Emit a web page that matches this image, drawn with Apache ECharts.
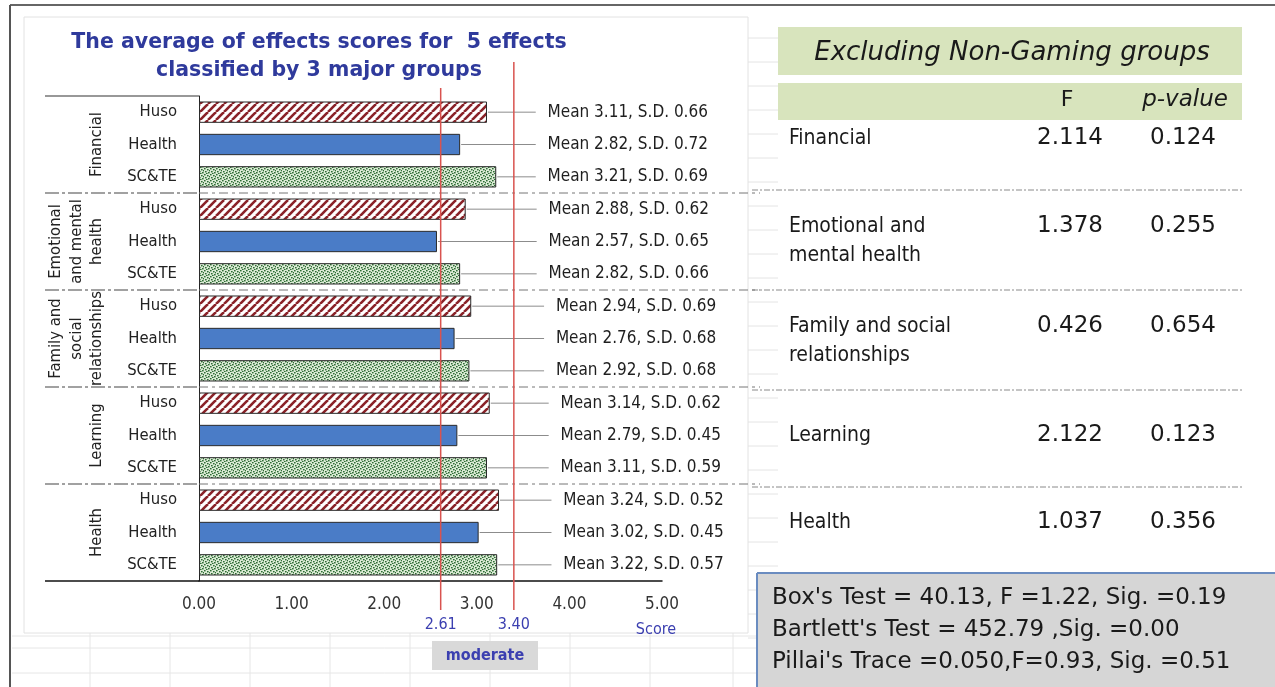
<!DOCTYPE html>
<html><head><meta charset="utf-8">
<script src="https://cdn.jsdelivr.net/npm/echarts@6/dist/echarts.min.js"></script>
<style>html,body{margin:0;padding:0;background:#fff}#c{width:1275px;height:687px}</style>
</head><body><div id="c"></div>
<script>
// ---------- data ----------
const groups = ['Financial', 'Emotional\nand mental\nhealth', 'Family and\nsocial\nrelationships', 'Learning', 'Health'];
const subgroups = ['Huso', 'Health', 'SC&TE'];
const husoMeans   = [3.11, 2.88, 2.94, 3.14, 3.24];
const husoSD      = [0.66, 0.62, 0.69, 0.62, 0.52];
const healthMeans = [2.82, 2.57, 2.76, 2.79, 3.02];
const healthSD    = [0.72, 0.65, 0.68, 0.45, 0.45];
const scteMeans   = [3.21, 2.82, 2.92, 3.11, 3.22];
const scteSD      = [0.69, 0.66, 0.68, 0.59, 0.57];
const xTicks = [0, 1, 2, 3, 4, 5];
const thresholds = [2.61, 3.40];
const titleLines = ['The average of effects scores for  5 effects', 'classified by 3 major groups'];
const tableTitle = 'Excluding Non-Gaming groups';
const tableEffects = ['Financial', 'Emotional and\nmental health', 'Family and social\nrelationships', 'Learning', 'Health'];
const tableF = ['2.114', '1.378', '0.426', '2.122', '1.037'];
const tableP = ['0.124', '0.255', '0.654', '0.123', '0.356'];
const testLines = ["Box's Test = 40.13, F =1.22, Sig. =0.19", "Bartlett's Test = 452.79 ,Sig. =0.00", "Pillai's Trace =0.050,F=0.93, Sig. =0.51"];

// ---------- patterns ----------
function hatchPattern() {
  const n = 8;
  const c = document.createElement('canvas'); c.width = n; c.height = n;
  const g = c.getContext('2d');
  g.fillStyle = '#ffffff'; g.fillRect(0, 0, n, n);
  g.strokeStyle = '#8a2228'; g.lineWidth = 2.6;
  for (let k = -n; k <= 2 * n; k += n) { g.beginPath(); g.moveTo(k, n); g.lineTo(k + n, 0); g.stroke(); }
  return c;
}
function dotPattern() {
  const c = document.createElement('canvas'); c.width = 6; c.height = 6;
  const g = c.getContext('2d');
  g.fillStyle = '#dcecd6'; g.fillRect(0, 0, 6, 6);
  g.fillStyle = '#2d6b34';
  [[0,0],[3,1],[1,3],[4,4],[2,5],[5,2]].forEach(p => g.fillRect(p[0], p[1], 1.6, 1.4));
  return c;
}
const fills = [
  { image: hatchPattern(), repeat: 'repeat' },
  '#4a7cc7',
  { image: dotPattern(), repeat: 'repeat' }
];

const means = [husoMeans, healthMeans, scteMeans];
const sds = [husoSD, healthSD, scteSD];
const categories = [];
const barData = [];
const labelData = [];
groups.forEach((gname, g) => {
  subgroups.forEach((s, k) => {
    const idx = categories.length;
    categories.push(g + '|' + s);
    barData.push({ value: means[k][g], itemStyle: { color: fills[k] } });
    labelData.push([means[k][g], idx, sds[k][g]]);
  });
});
const groupData = groups.map((_, g) => [0, g]);
const threshData = thresholds.map((t, i) => [t, i]);

const FONT = '"DejaVu Sans Condensed", "DejaVu Sans", sans-serif';
const WIDE = '"DejaVu Sans", sans-serif';
const chart = echarts.init(document.getElementById('c'), null, { renderer: 'canvas' });

const graphics = [];
for (let y = 38; y < 640; y += 24) graphics.push({ type: 'line', shape: { x1: 748, y1: y, x2: 778, y2: y }, style: { stroke: '#e4e4e4', lineWidth: 1 }, z: -10 });
[636, 648, 673].forEach(y => graphics.push({ type: 'line', shape: { x1: 12, y1: y, x2: 757, y2: y }, style: { stroke: '#e6e6e6', lineWidth: 1 }, z: -10 }));
[90, 170, 250, 330, 410, 490, 570, 650, 733].forEach(x => graphics.push({ type: 'line', shape: { x1: x, y1: 633, x2: x, y2: 687 }, style: { stroke: '#e6e6e6', lineWidth: 1 }, z: -10 }));
graphics.push({ type: 'rect', shape: { x: 24, y: 17, width: 724, height: 616 }, style: { fill: '#fff', stroke: '#e2e2e2', lineWidth: 1 }, z: -9 });
graphics.push({ type: 'line', shape: { x1: 10, y1: 5, x2: 1275, y2: 5 }, style: { stroke: '#666', lineWidth: 2 }, z: 50 });
graphics.push({ type: 'line', shape: { x1: 10, y1: 5, x2: 10, y2: 687 }, style: { stroke: '#555', lineWidth: 2 }, z: 50 });
titleLines.forEach((t, i) => graphics.push({ type: 'text', x: 319, y: 43 + i * 28, style: { text: t, font: 'bold 20.5px ' + WIDE, fill: '#2f3a9c', align: 'center', verticalAlign: 'middle' }, z: 20 }));
graphics.push({ type: 'text', x: 656, y: 630, style: { text: 'Score', font: '16px ' + FONT, fill: '#3b3fb0', align: 'center', verticalAlign: 'middle' } });
graphics.push({ type: 'rect', shape: { x: 432, y: 641, width: 106, height: 29 }, style: { fill: '#d9d9d9' } });
graphics.push({ type: 'text', x: 485, y: 656, style: { text: 'moderate', font: 'bold 16px ' + FONT, fill: '#3b3fb0', align: 'center', verticalAlign: 'middle' } });
graphics.push({ type: 'rect', shape: { x: 778, y: 27, width: 464, height: 48 }, style: { fill: '#d8e4bd' } });
graphics.push({ type: 'text', x: 1012, y: 53, style: { text: tableTitle, font: 'italic 26px ' + WIDE, fill: '#1a1a1a', align: 'center', verticalAlign: 'middle' } });
graphics.push({ type: 'rect', shape: { x: 778, y: 83, width: 464, height: 37 }, style: { fill: '#d8e4bd' } });
graphics.push({ type: 'text', x: 1067, y: 100, style: { text: 'F', font: '22px ' + WIDE, fill: '#1a1a1a', align: 'center', verticalAlign: 'middle' } });
graphics.push({ type: 'text', x: 1185, y: 100, style: { text: 'p-value', font: 'italic 23px ' + WIDE, fill: '#1a1a1a', align: 'center', verticalAlign: 'middle' } });
const rowY = [137, 225, 325, 434, 521];
tableEffects.forEach((t, i) => {
  graphics.push({ type: 'text', x: 789, y: rowY[i] - 13, style: { text: t, font: '21px ' + FONT, lineHeight: 29, fill: '#1a1a1a', align: 'left', verticalAlign: 'top' } });
  graphics.push({ type: 'text', x: 1070, y: rowY[i] + 1, style: { text: tableF[i], font: '23px ' + WIDE, fill: '#1a1a1a', align: 'center', verticalAlign: 'middle' } });
  graphics.push({ type: 'text', x: 1183, y: rowY[i] + 1, style: { text: tableP[i], font: '23px ' + WIDE, fill: '#1a1a1a', align: 'center', verticalAlign: 'middle' } });
});
[190, 290, 390, 487].forEach(y => graphics.push({ type: 'line', shape: { x1: 752, y1: y, x2: 1242, y2: y }, style: { stroke: '#8a8a8a', lineWidth: 1, lineDash: [6, 2, 2, 2] } }));
graphics.push({ type: 'rect', shape: { x: 757, y: 573, width: 520, height: 116 }, style: { fill: '#d6d6d6' } });
graphics.push({ type: 'line', shape: { x1: 757, y1: 573, x2: 1275, y2: 573 }, style: { stroke: '#6a8cc0', lineWidth: 2 } });
graphics.push({ type: 'line', shape: { x1: 757, y1: 573, x2: 757, y2: 687 }, style: { stroke: '#6a8cc0', lineWidth: 2 } });
testLines.forEach((t, i) => graphics.push({ type: 'text', x: 772, y: 598 + i * 32, style: { text: t, font: '23px ' + WIDE, fill: '#1a1a1a', align: 'left', verticalAlign: 'middle' } }));

const labelCentre = [4.63, 4.64, 4.72, 4.77, 4.8];

const option = {
  backgroundColor: '#ffffff',
  animation: false,
  grid: { left: 199, right: 613, top: 96, bottom: 106, containLabel: false },
  xAxis: {
    type: 'value', min: 0, max: 5, interval: 1,
    axisLine: { show: true, lineStyle: { color: '#111', width: 1.5 } },
    axisTick: { show: false }, splitLine: { show: false },
    axisLabel: { margin: 15, formatter: v => xTicks.includes(v) ? v.toFixed(2) : '', fontFamily: FONT, fontSize: 17, color: '#333' }
  },
  yAxis: {
    type: 'category', data: categories, inverse: true,
    axisLine: { show: true, lineStyle: { color: '#222', width: 1 } },
    axisTick: { show: false },
    axisLabel: { margin: 22, formatter: v => v.split('|')[1], fontFamily: FONT, fontSize: 16.5, color: '#222' }
  },
  graphic: graphics,
  series: [
    {
      type: 'bar', data: barData, barWidth: '66%', z: 3,
      itemStyle: { borderColor: '#2b2b2b', borderWidth: 1 }
    },
    {
      type: 'custom', data: labelData, z: 4,
      renderItem: (params, api) => {
        const idx = api.value(1);
        const end = api.coord([api.value(0), idx]);
        const cx = api.coord([labelCentre[Math.floor(idx / 3)], idx])[0];
        const txt = 'Mean ' + api.value(0).toFixed(2) + ', S.D. ' + api.value(2).toFixed(2);
        return { type: 'group', children: [
          { type: 'line', shape: { x1: end[0] + 1, y1: end[1], x2: cx - 92, y2: end[1] }, style: { stroke: '#8c8c8c', lineWidth: 1 } },
          { type: 'text', x: cx, y: end[1], style: { text: txt, font: '17px ' + FONT, fill: '#1f1f1f', align: 'center', verticalAlign: 'middle' } }
        ] };
      }
    },
    {
      type: 'custom', data: groupData, z: 5,
      renderItem: (params, api) => {
        const g = api.value(1);
        const band = api.size([0, 1])[1];
        const c = api.coord([0, g * 3]);
        const top = c[1] - band / 2, bottom = top + 3 * band;
        const x0 = c[0];
        const ch = [
          { type: 'text', x: x0 - 92, y: (top + bottom) / 2, rotation: Math.PI / 2,
            style: { text: groups[g], font: '16.5px ' + FONT, lineHeight: 20.5, fill: '#222', align: 'center', verticalAlign: 'bottom' } }
        ];
        if (g === 0) ch.push({ type: 'line', shape: { x1: 45, y1: top, x2: x0, y2: top }, style: { stroke: '#333', lineWidth: 1.2 } });
        else {
          ch.push({ type: 'line', shape: { x1: 45, y1: top, x2: x0, y2: top }, style: { stroke: '#444', lineWidth: 1.2, lineDash: [14, 3, 3, 3] } });
          ch.push({ type: 'line', shape: { x1: x0, y1: top, x2: 760, y2: top }, style: { stroke: '#777', lineWidth: 1, lineDash: [9, 4, 3, 4] } });
        }
        if (g === groups.length - 1) ch.push({ type: 'line', shape: { x1: 45, y1: bottom, x2: x0, y2: bottom }, style: { stroke: '#111', lineWidth: 1.5 } });
        return { type: 'group', children: ch };
      }
    },
    {
      type: 'custom', data: threshData, z: 6,
      renderItem: (params, api) => {
        const i = api.value(1);
        const x = api.coord([api.value(0), 0])[0];
        const tops = [88, 62];
        return { type: 'group', children: [
          { type: 'line', shape: { x1: x, y1: tops[i], x2: x, y2: 610 }, style: { stroke: '#d9534f', lineWidth: 1.5 } },
          { type: 'text', x: x, y: 625, style: { text: api.value(0).toFixed(2), font: '16px ' + FONT, fill: '#3b3fb0', align: 'center', verticalAlign: 'middle' } }
        ] };
      }
    }
  ]
};
chart.setOption(option);
</script></body></html>
